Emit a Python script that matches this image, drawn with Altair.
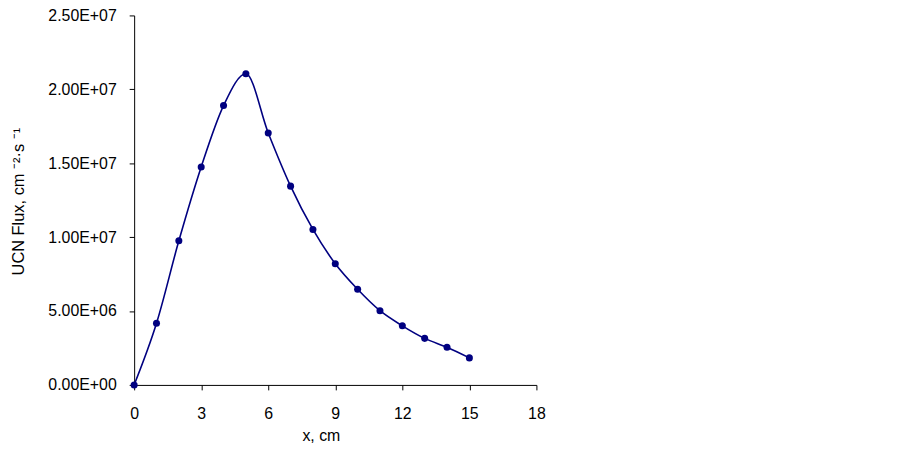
import altair as alt
import pandas as pd

x_cm = [0, 1, 2, 3, 4, 5, 6, 7, 8, 9, 10, 11, 12, 13, 14, 15]
flux = [0.0, 4.17e6, 9.75e6, 14.75e6, 18.9e6, 21.05e6, 17.05e6, 13.45e6,
        10.52e6, 8.2e6, 6.47e6, 5.02e6, 4.0e6, 3.15e6, 2.55e6, 1.83e6]
x_ticks = [0, 3, 6, 9, 12, 15, 18]
y_ticks = [0, 5e6, 1e7, 1.5e7, 2e7, 2.5e7]

df = pd.DataFrame({"x": x_cm, "flux": flux})

FONT = "Liberation Sans"
NAVY = "#000080"

x_enc = alt.X(
    "x:Q",
    scale=alt.Scale(domain=[0, 18], nice=False, zero=False),
    axis=alt.Axis(
        values=x_ticks, title="x, cm", grid=False, labelFlush=False,
        domainColor="black", tickColor="black", tickSize=5,
        labelFont=FONT, labelFontSize=16, labelColor="black",
        labelPadding=29, labelBaseline="alphabetic",
        titleFont=FONT, titleFontSize=16, titleFontWeight="normal", titleColor="black",
        titleX=188, titleY=56, titleBaseline="alphabetic", titleAnchor="middle",
        titleAlign="center",
    ),
)
y_enc = alt.Y(
    "flux:Q",
    scale=alt.Scale(domain=[0, 2.5e7], nice=False),
    axis=alt.Axis(
        values=y_ticks, title="UCN Flux, cm \u207b\u00b2\u00b7s \u207b\u00b9", grid=False,
        labelFlush=False,
        domainColor="black", tickColor="black", tickSize=5,
        labelFont=FONT, labelFontSize=16, labelColor="black", labelPadding=13,
        labelExpr="replace(format(datum.value, '.2e'), 'e+', 'E+0')",
        titleFont=FONT, titleFontSize=16.5, titleFontWeight="normal", titleColor="black",
        titleX=-111, titleY=187, titleAngle=-90, titleBaseline="alphabetic",
        titleAlign="center",
    ),
)

line = alt.Chart(df).mark_line(color=NAVY, strokeWidth=1.6, interpolate="monotone").encode(
    x=x_enc, y=y_enc
)
pts = alt.Chart(df).mark_circle(color=NAVY, size=50, opacity=1).encode(x="x:Q", y="flux:Q")

chart = alt.layer(line, pts).properties(
    width=405,
    height=372,
    background="white",
    autosize=alt.AutoSizeParams(type="none"),
    padding={"left": 127, "top": 6, "right": 360, "bottom": 58},
).configure_view(stroke=None)

chart.save("out.html", embed_options={"renderer": "svg", "actions": False})
